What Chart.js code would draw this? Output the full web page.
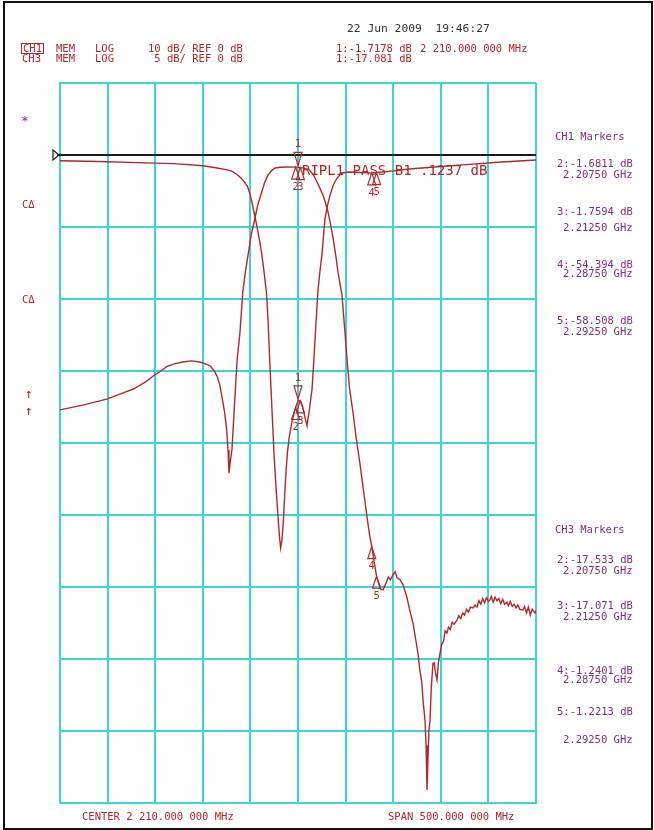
<!DOCTYPE html>
<html>
<head>
<meta charset="utf-8">
<script src="https://cdn.jsdelivr.net/npm/chart.js@4.4.0/dist/chart.umd.min.js"></script>
<style>
  html, body { margin: 0; padding: 0; background: #fff; }
  #wrap { position: relative; width: 654px; height: 830px; overflow: hidden; background: #fff; }
  #c { position: absolute; left: 0; top: 0; }
  .t { position: absolute; white-space: pre; font-family: "DejaVu Sans Mono", "Liberation Mono", monospace; font-size: 10.5px; line-height: 11px; }
  .red { color: #a8282c; }
  .pur { color: #7d2f7d; }
  #frame { position: absolute; left: 3px; top: 1px; width: 646px; height: 825px; border: 2px solid #111; }
</style>
</head>
<body>
<div id="wrap">
  <canvas id="c" width="654" height="830"></canvas>
  <div id="frame"></div>

  <div class="t" style="left:347px;top:23px;font-size:11.3px;color:#333;">22 Jun 2009  19:46:27</div>

  <div class="t red" style="left:21px;top:43px;border:1px solid #a8282c;line-height:9px;padding:0 1px;">CH1</div>
  <div class="t red" style="left:56px;top:43px;">MEM</div>
  <div class="t red" style="left:95px;top:43px;">LOG</div>
  <div class="t red" style="left:148px;top:43px;">10 dB/ REF 0 dB</div>
  <div class="t red" style="left:336px;top:43px;">1:-1.7178 dB</div>
  <div class="t red" style="left:420px;top:43px;">2 210.000 000 MHz</div>

  <div class="t red" style="left:22px;top:53px;">CH3</div>
  <div class="t red" style="left:56px;top:53px;">MEM</div>
  <div class="t red" style="left:95px;top:53px;">LOG</div>
  <div class="t red" style="left:148px;top:53px;"> 5 dB/ REF 0 dB</div>
  <div class="t red" style="left:336px;top:53px;">1:-17.081 dB</div>

  <div class="t pur" style="left:21px;top:115px;font-size:13px;">*</div>
  <div class="t red" style="left:22px;top:199px;">C&#916;</div>
  <div class="t red" style="left:22px;top:294px;">C&#916;</div>
  <div class="t red" style="left:25px;top:387px;font-size:13px;line-height:13px;">&#8593;</div>
  <div class="t red" style="left:25px;top:404px;font-size:13px;line-height:13px;">&#8593;</div>

  <div class="t red" style="left:302px;top:163px;font-size:14px;line-height:15px;">RIPL1 PASS B1 .1237 dB</div>

  <div class="t pur" style="left:555px;top:131px;">CH1 Markers</div>
  <div class="t pur" style="left:557px;top:158px;">2:-1.6811 dB</div>
  <div class="t pur" style="left:563px;top:169px;">2.20750 GHz</div>
  <div class="t pur" style="left:557px;top:206px;">3:-1.7594 dB</div>
  <div class="t pur" style="left:563px;top:222px;">2.21250 GHz</div>
  <div class="t pur" style="left:557px;top:259px;">4:-54.394 dB</div>
  <div class="t pur" style="left:563px;top:268px;">2.28750 GHz</div>
  <div class="t pur" style="left:557px;top:315px;">5:-58.508 dB</div>
  <div class="t pur" style="left:563px;top:326px;">2.29250 GHz</div>

  <div class="t pur" style="left:555px;top:524px;">CH3 Markers</div>
  <div class="t pur" style="left:557px;top:554px;">2:-17.533 dB</div>
  <div class="t pur" style="left:563px;top:565px;">2.20750 GHz</div>
  <div class="t pur" style="left:557px;top:600px;">3:-17.071 dB</div>
  <div class="t pur" style="left:563px;top:611px;">2.21250 GHz</div>
  <div class="t pur" style="left:557px;top:665px;">4:-1.2401 dB</div>
  <div class="t pur" style="left:563px;top:674px;">2.28750 GHz</div>
  <div class="t pur" style="left:557px;top:706px;">5:-1.2213 dB</div>
  <div class="t pur" style="left:563px;top:734px;">2.29250 GHz</div>

  <div class="t red" style="left:82px;top:811px;">CENTER 2 210.000 000 MHz</div>
  <div class="t red" style="left:388px;top:811px;">SPAN 500.000 000 MHz</div>
</div>
<script>
// ---- data (MHz, dB) ----
const ch1Freq = [1960,1985,2009,2025,2037,2050,2058,2066,2072,2080,2089,2098,2107,2113,2118,2122,2125,2128,2130,2133,2135,2136.5,2137.5,2139,2140.7,2142.3,2143.8,2146,2149,2152,2155,2157.5,2161,2164.8,2168,2172,2175,2178.5,2182,2185.8,2192,2198.4,2207.5,2210,2212.5,2217,2222,2226,2230,2233,2236.3,2239,2241.5,2244,2246.8,2249.5,2252,2254,2256.2,2259.4,2262,2264.3,2267.8,2271,2275,2279,2282.5,2285,2287.5,2290,2292.5,2295,2297,2299.3,2302,2305,2307,2309.8,2312,2314,2317.2,2320,2322,2324.5,2327,2330.8,2333,2336,2338,2340,2341.5,2343.4,2344.5,2345.5,2346.5,2347.5,2348.7,2350,2351.8,2353,2354.5,2356,2357.5,2359.2,2361,2363,2364.5,2366.5,2368,2370,2372,2374,2377,2379,2381,2383,2385,2387,2389,2391,2393.8,2396,2398,2400,2402,2404,2406,2408,2410,2411.7,2413,2415,2417,2419,2421,2423,2425,2427,2429.5,2431,2433,2435,2437,2439,2441,2443,2446.3,2448,2450,2452,2454,2456,2458.9,2460];
const ch1Db = [-35.4,-34.7,-33.9,-33.1,-32.5,-31.5,-30.7,-30.0,-29.4,-29.0,-28.75,-28.6,-28.75,-29.0,-29.3,-30.0,-30.7,-32.0,-33.5,-35.8,-38.1,-41.0,-44.2,-42.5,-40.8,-37.0,-33.5,-28.5,-24.7,-19.0,-16.0,-13.9,-11.0,-8.75,-6.8,-5.1,-3.8,-2.8,-2.2,-1.8,-1.7,-1.67,-1.68,-1.72,-1.76,-1.85,-2.1,-2.7,-3.75,-4.6,-5.6,-6.7,-7.9,-9.5,-11.5,-13.8,-16.25,-17.8,-19.4,-24.8,-29.2,-32.6,-35.8,-39.2,-42.8,-46.8,-50.3,-52.6,-54.4,-56.5,-58.5,-59.6,-60.3,-60.4,-59.6,-58.6,-59.0,-58.3,-57.9,-58.7,-59.0,-59.6,-60.4,-61.5,-63.0,-65.0,-66.8,-69.2,-71.5,-73.2,-76.0,-78.5,-82.0,-88.2,-84.0,-80.0,-78.5,-74.0,-70.6,-70.5,-72.0,-72.9,-70.5,-69.2,-68.0,-67.5,-66.1,-66.4,-65.6,-65.9,-64.9,-65.2,-64.6,-64.0,-64.4,-63.6,-63.9,-63.1,-63.5,-62.8,-62.9,-62.5,-62.8,-61.9,-62.4,-61.6,-62.2,-61.5,-62.0,-61.8,-61.3,-62.1,-61.4,-61.9,-61.6,-62.3,-61.7,-62.4,-62.1,-62.6,-62.0,-62.7,-62.4,-62.9,-62.5,-63.1,-63.2,-62.7,-63.6,-62.8,-63.9,-63.1,-63.6,-63.3];

const ch3Freq = [1960,2000,2050,2080,2110,2125,2133,2140,2146,2150,2154,2157,2160,2162,2164.5,2167,2170,2172,2174.5,2177,2178.6,2180,2181.7,2183.3,2184.9,2187,2189,2190.5,2191.8,2193,2194.5,2196,2197.7,2199,2200.8,2204,2207.5,2210,2212.5,2214.5,2217,2219.5,2221.5,2224.7,2226.3,2227.9,2229.5,2231,2233,2235.2,2236.8,2238.4,2241,2243.6,2247,2251,2256,2264,2275,2287.5,2292.5,2310,2330,2360,2390,2420,2460];
const ch3Db = [-0.40,-0.45,-0.55,-0.60,-0.75,-0.90,-1.0,-1.1,-1.35,-1.6,-1.9,-2.2,-2.8,-3.4,-4.2,-5.0,-6.1,-6.9,-8.2,-9.65,-11.6,-13.8,-16.3,-18.6,-20.9,-23.2,-25.1,-26.5,-27.3,-26.8,-25.6,-23.6,-21.7,-20.6,-19.6,-18.4,-17.53,-17.08,-17.07,-17.4,-18.1,-18.8,-17.9,-16.3,-14.6,-12.8,-11.0,-9.4,-8.1,-6.9,-5.6,-4.4,-3.5,-2.8,-2.1,-1.6,-1.25,-1.18,-1.22,-1.24,-1.22,-1.10,-0.95,-0.80,-0.65,-0.50,-0.35];

const markerNames = ['1','2','3','4','5'];
const markerFreq = [2210, 2207.5, 2212.5, 2287.5, 2292.5];
const ch1MarkerDb = [-1.7178, -1.6811, -1.7594, -54.394, -58.508];
const ch3MarkerDb = [-17.081, -17.533, -17.071, -1.2401, -1.2213];

const freqMin = 1960, freqMax = 2460, freqStep = 50;
const ch1Min = -90, ch1Max = 10, ch1Step = 10;
const ch3Min = -45, ch3Max = 5;
const refLevel = 0;

const TRACE = '#ad2a2c';
const GRID = '#3fd3d3';

function pts(xs, ys) { return xs.map((x, i) => ({ x: x, y: ys[i] })); }

const markerPlugin = {
  id: 'markers',
  beforeDatasetsDraw(chart) {
    const ctx = chart.ctx, xs = chart.scales.x, ys = chart.scales.y;
    const yRef = ys.getPixelForValue(refLevel);
    ctx.save();
    ctx.strokeStyle = '#1a1a1a';
    ctx.lineWidth = 2;
    ctx.beginPath();
    ctx.moveTo(xs.left - 3, yRef);
    ctx.lineTo(xs.right, yRef);
    ctx.stroke();
    ctx.lineWidth = 1.2;
    ctx.beginPath();
    ctx.moveTo(xs.left - 7, yRef - 5);
    ctx.lineTo(xs.left - 1, yRef);
    ctx.lineTo(xs.left - 7, yRef + 5);
    ctx.closePath();
    ctx.stroke();
    ctx.restore();
  },
  afterDatasetsDraw(chart) {
    const ctx = chart.ctx, xs = chart.scales.x;
    const groups = [
      { scale: chart.scales.y, vals: ch1MarkerDb },
      { scale: chart.scales.y3, vals: ch3MarkerDb }
    ];
    ctx.save();
    ctx.strokeStyle = TRACE;
    ctx.fillStyle = TRACE;
    ctx.lineWidth = 1.2;
    ctx.font = '10.5px "DejaVu Sans Mono"';
    ctx.textAlign = 'center';
    ctx.textBaseline = 'middle';
    groups.forEach(g => {
      markerFreq.forEach((f, i) => {
        const px = xs.getPixelForValue(f);
        const py = g.scale.getPixelForValue(g.vals[i]);
        ctx.beginPath();
        if (i === 0) {
          ctx.moveTo(px, py - 2);
          ctx.lineTo(px - 4, py - 15);
          ctx.lineTo(px + 4, py - 15);
          ctx.closePath();
          ctx.stroke();
          ctx.fillText(markerNames[i], px, py - 23);
        } else {
          ctx.moveTo(px, py);
          ctx.lineTo(px - 4, py + 12);
          ctx.lineTo(px + 4, py + 12);
          ctx.closePath();
          ctx.stroke();
          ctx.fillText(markerNames[i], px, py + 20);
        }
      });
    });
    ctx.restore();
  }
};

const gridCfg = { color: GRID, lineWidth: 2, drawTicks: false };
const borderCfg = { display: true, color: GRID, width: 2 };

new Chart(document.getElementById('c'), {
  type: 'line',
  data: {
    datasets: [
      { label: 'CH1', data: pts(ch1Freq, ch1Db), yAxisID: 'y', borderColor: TRACE, borderWidth: 1.4, pointRadius: 0, tension: 0, fill: false },
      { label: 'CH3', data: pts(ch3Freq, ch3Db), yAxisID: 'y3', borderColor: TRACE, borderWidth: 1.4, pointRadius: 0, tension: 0, fill: false }
    ]
  },
  options: {
    responsive: false,
    animation: false,
    devicePixelRatio: 1,
    layout: { padding: { left: 60, right: 118, top: 83, bottom: 27 } },
    plugins: { legend: { display: false }, tooltip: { enabled: false } },
    scales: {
      x: { type: 'linear', min: freqMin, max: freqMax, ticks: { display: false, stepSize: freqStep }, grid: gridCfg, border: borderCfg },
      y: { type: 'linear', min: ch1Min, max: ch1Max, ticks: { display: false, stepSize: ch1Step }, grid: gridCfg, border: borderCfg },
      y3: { type: 'linear', min: ch3Min, max: ch3Max, display: false }
    }
  },
  plugins: [markerPlugin]
});
</script>
</body>
</html>
